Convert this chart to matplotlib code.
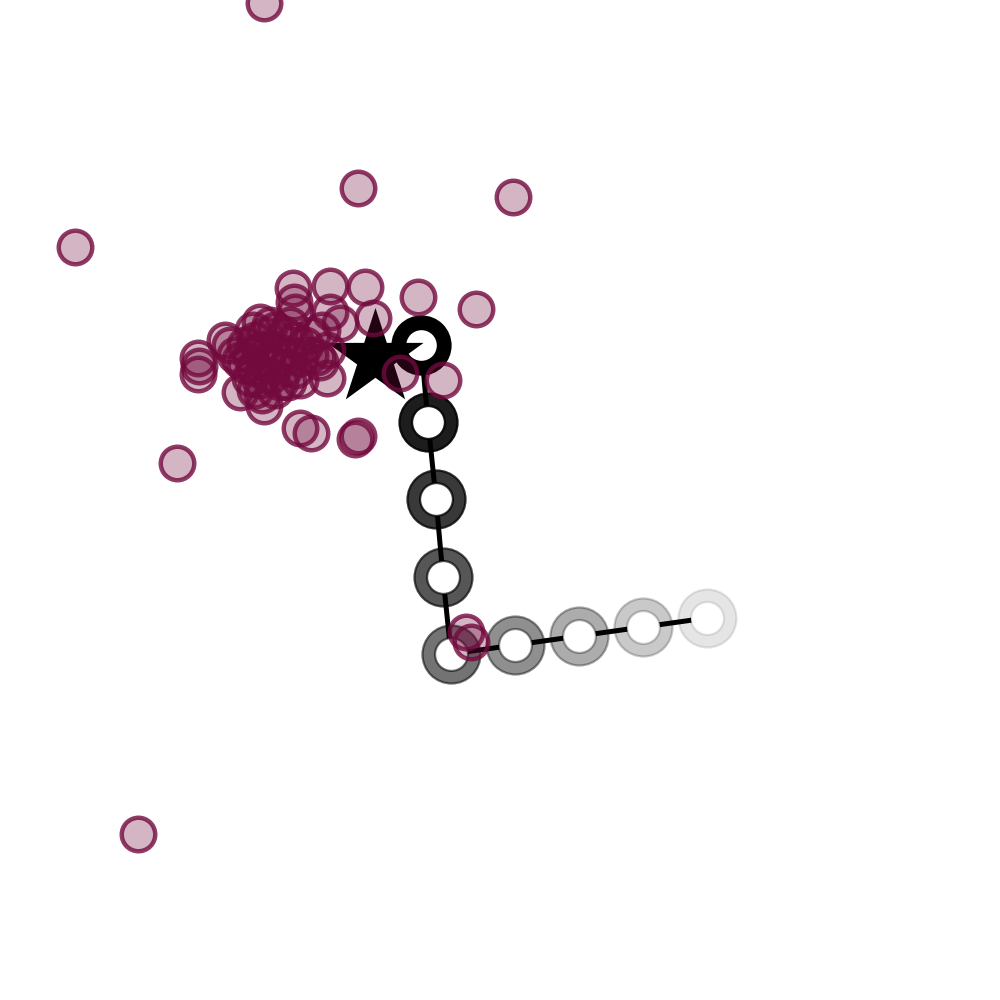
import numpy as np
import matplotlib

matplotlib.use("Agg")
import matplotlib.pyplot as plt

# embedded points (scatter cloud)
cloud_x = [
    -2.36, -1.42, 0.13, -4.25, -3.23, -3.62, -0.34, -0.29,
    -2.07, -2.06, -1.70, -1.35, -0.82, -0.24, -1.70, -1.60, -1.27,
    -1.00, -0.57, -1.73, -3.02, -3.02, -3.01, -2.00, -1.89, -1.45,
    -1.42, -2.36, -2.60, -2.05, -1.78, -1.80, -2.12, -2.75, -2.70, -2.47,
    -2.55, -2.45, -2.35, -2.25, -2.15, -2.05, -1.95, -2.50, -2.40,
    -2.30, -2.20, -2.10, -2.00, -2.55, -2.45, -2.35, -2.25, -2.15,
    -2.05, -2.50, -2.40, -2.30, -2.20, -2.45, -2.60, -2.30, -2.40,
    -1.90, -1.88, -2.10, -2.65, -2.00, -2.25, -2.38, -1.83, -1.73,
]
cloud_y = [
    4.97, 3.12, 3.03, 2.53, 0.37, -3.34, -1.32, -1.42,
    2.12, 1.98, 2.14, 2.13, 2.03, 1.91, 1.88, 1.77, 1.82,
    1.27, 1.20, 1.22, 1.42, 1.26, 1.34, 0.72, 0.67, 0.61,
    0.64, 0.94, 1.08, 1.88, 1.70, 1.38, 1.18, 1.60, 1.55, 1.70,
    1.55, 1.60, 1.65, 1.70, 1.65, 1.60, 1.55, 1.45, 1.50,
    1.52, 1.48, 1.45, 1.42, 1.35, 1.32, 1.38, 1.35, 1.32,
    1.30, 1.22, 1.20, 1.24, 1.18, 1.10, 1.40, 1.75, 1.78,
    1.45, 1.65, 1.75, 1.45, 1.20, 1.10, 1.05, 1.43, 1.50,
]

# query point
star_x = [-1.25]
star_y = [1.42]

# trajectory steps
path_x = [-0.79, -0.72, -0.64, -0.57, -0.49, 0.15, 0.79, 1.43, 2.07]
path_y = [1.55, 0.78, 0.01, -0.77, -1.54, -1.45, -1.36, -1.27, -1.18]

cloud_rgb = (115 / 255, 10 / 255, 62 / 255)

fig = plt.figure(figsize=(10, 10), dpi=100)
ax = fig.add_axes([0, 0, 1, 1])
ax.set_xlim(-5, 5)
ax.set_ylim(-5, 5)
ax.axis("off")

ax.plot(path_x, path_y, color="black", lw=3.6, zorder=1, solid_capstyle="butt")

# fading ring markers along the path
alphas = np.linspace(1.0, 0.1, len(path_x))
for px, py, a in zip(path_x, path_y, alphas):
    ax.scatter([px], [py], s=1745, facecolor=(0, 0, 0, a),
               edgecolor=(0, 0, 0, a), linewidths=1.6, zorder=2)
    ax.scatter([px], [py], s=560, facecolor="white",
               edgecolor=(0, 0, 0, a), linewidths=1.6, zorder=3)

ax.scatter(star_x, star_y, marker="*", s=5300, color="black",
           linewidths=0, zorder=4)

ax.scatter(cloud_x, cloud_y, s=582, facecolor=(*cloud_rgb, 0.3),
           edgecolor=(*cloud_rgb, 0.8), linewidths=3.2, zorder=5)

fig.savefig("out.png", dpi=100)
